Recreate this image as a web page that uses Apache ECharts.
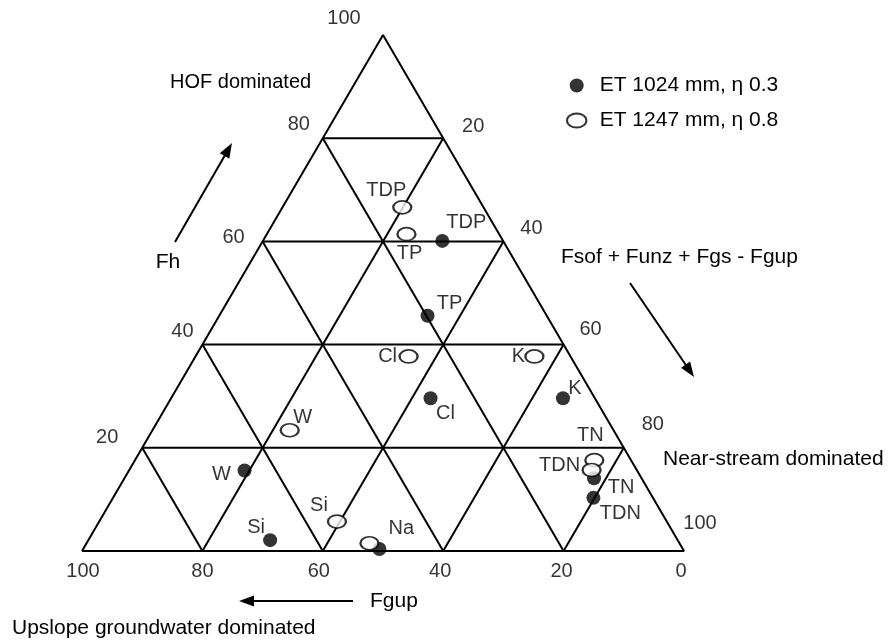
<!DOCTYPE html>
<html>
<head>
<meta charset="utf-8">
<script src="https://cdn.jsdelivr.net/npm/echarts@6/dist/echarts.min.js"></script>
<style>html,body{margin:0;padding:0;background:#fff;}#main{width:888px;height:640px;}</style>
</head>
<body>
<div id="main"></div>
<script>
// ---- data (ternary: Fgup %, Fh %, remainder = Fsof + Funz + Fgs - Fgup) ----
const elements = ['TDP', 'TP', 'Cl', 'K', 'W', 'Si', 'Na', 'TN', 'TDN'];
const seriesNames = ['ET 1024 mm, \u03b7 0.3', 'ET 1247 mm, \u03b7 0.8'];
const fgup1024 = [10.1, 19.8, 27.3, 5.3, 65.2, 67.7, 50.4, 7.9, 9.9];
const fh1024   = [60.1, 45.6, 29.6, 29.6, 15.6, 2.1, 0.4, 14.1, 10.3];
const fgup1247 = [13.5, 15.4, 26.9, 6.0, 53.8, 54.8, 51.5, 6.1, 7.5];
const fh1247   = [66.6, 61.4, 37.7, 37.7, 23.4, 5.7, 1.5, 17.6, 15.7];
const gridTicks = [20, 40, 60, 80];
const bottomTicks = [100, 80, 60, 40, 20, 0];   // Fgup
const leftTicks = [20, 40, 60, 80, 100];         // Fh
const rightTicks = [20, 40, 60, 80, 100];        // Fsof + Funz + Fgs - Fgup

// ---- label placement (style only) ----
const labelOff1024 = [[24,-18],[22,-12],[15,15],[12,-10],[-23,4],[-14,-13],[22,-20],[27,9],[27,16]];
const labelOff1247 = [[-16,-17],[3,19],[-21,0],[-16,0],[13,-13],[-18,-16],null,[-4,-25],[-32,-5]];
const bottomOff = [[1,20],[0,20],[-4,20],[-3,20],[-2,20],[-3,20]];
const leftOff = [[-35,-10],[-20,-13],[-29,-4],[-24,-14],[-39,-17]];
const rightOff = [[30,-12],[28,-13],[27,-15],[29,-23],[16,-28]];

const FONT = '"Liberation Sans", Arial, sans-serif';
const FS = 20;
const FS_TXT = 21;

// ternary -> cartesian (x: 0 at left vertex, 100 at right vertex; y: Fh)
function tern(fgup, fh) { return [100 - fgup - fh / 2, fh]; }

const lineStyle = { color: '#000', width: 2 };
function seg(pts) {
  return { type: 'line', data: pts, symbol: 'none', silent: true, clip: false,
           lineStyle: lineStyle, z: 1, animation: false };
}
const series = [];
series.push(seg([tern(100,0), tern(0,0), tern(0,100), tern(100,0)]));
gridTicks.forEach(function (t) {
  series.push(seg([tern(100 - t, t), tern(0, t)]));        // constant Fh
  series.push(seg([tern(t, 0), tern(t, 100 - t)]));        // constant Fgup
  series.push(seg([tern(100 - t, 0), tern(0, 100 - t)]));  // constant remainder
});

function ptLabel(off) {
  if (!off) return { show: false };
  return { show: true, position: 'inside', offset: off, color: '#000',
           fontSize: FS, fontFamily: FONT, align: 'center', verticalAlign: 'middle' };
}

series.push({
  name: seriesNames[0], type: 'scatter', clip: false, z: 5, animation: false,
  symbol: 'circle', symbolSize: 14,
  itemStyle: { color: '#000' },
  data: elements.map(function (e, i) {
    return { name: e, value: tern(fgup1024[i], fh1024[i]), label: Object.assign(ptLabel(labelOff1024[i]), { formatter: e }) };
  })
});
const ELL = 'path://M0,6.5 C0,2.91 4.03,0 9,0 C13.97,0 18,2.91 18,6.5 C18,10.09 13.97,13 9,13 C4.03,13 0,10.09 0,6.5 Z';
series.push({
  name: seriesNames[1], type: 'scatter', clip: false, z: 6, animation: false,
  symbol: ELL, symbolSize: [18, 13], symbolKeepAspect: false,
  itemStyle: { color: '#fff', borderColor: '#000', borderWidth: 2 },
  data: elements.map(function (e, i) {
    return { name: e, value: tern(fgup1247[i], fh1247[i]), label: Object.assign(ptLabel(labelOff1247[i]), { formatter: e }) };
  })
});

function tickSeries(ticks, posFn, offs) {
  return {
    type: 'scatter', silent: true, clip: false, z: 3, animation: false, symbolSize: 1,
    itemStyle: { color: 'rgba(0,0,0,0)' },
    data: ticks.map(function (v, i) {
      return { value: posFn(v), label: { show: true, position: 'inside', offset: offs[i], formatter: String(v),
               color: '#000', fontSize: FS, fontFamily: FONT, align: 'center', verticalAlign: 'middle' } };
    })
  };
}
series.push(tickSeries(bottomTicks, function (v) { return tern(v, 0); }, bottomOff));
series.push(tickSeries(leftTicks, function (v) { return tern(100 - v, v); }, leftOff));
series.push(tickSeries(rightTicks, function (v) { return tern(0, 100 - v); }, rightOff));

function arrow(x1, y1, x2, y2) {
  const dx = x2 - x1, dy = y2 - y1, L = Math.sqrt(dx * dx + dy * dy);
  const ux = dx / L, uy = dy / L, hl = 15, hw = 5.5;
  const bx = x2 - ux * hl, by = y2 - uy * hl;
  return { type: 'group', children: [
    { type: 'line', shape: { x1: x1, y1: y1, x2: bx + ux * 2, y2: by + uy * 2 }, style: { stroke: '#000', lineWidth: 2 } },
    { type: 'polygon', shape: { points: [[x2, y2], [bx - uy * hw, by + ux * hw], [bx + uy * hw, by - ux * hw]] }, style: { fill: '#000' } }
  ]};
}
function txt(x, y, s, align, fs) {
  return { type: 'text', x: x, y: y, style: { text: s, fill: '#000', font: (fs || FS_TXT) + 'px ' + FONT,
           textAlign: align || 'left', textVerticalAlign: 'middle' } };
}

const chart = echarts.init(document.getElementById('main'), null, { renderer: 'canvas' });
chart.setOption({
  backgroundColor: '#fff',
  animation: false,
  grid: { left: 82, right: 204, top: 35, bottom: 89 },
  xAxis: { type: 'value', min: 0, max: 100, show: false },
  yAxis: { type: 'value', min: 0, max: 100, show: false },
  legend: {
    orient: 'vertical', left: 566, top: 75, padding: 0, itemGap: 14,
    itemWidth: 36, itemHeight: 14, symbolKeepAspect: true,
    data: seriesNames,
    textStyle: { color: '#000', fontSize: FS_TXT, fontFamily: FONT, lineHeight: 20 },
    selectedMode: false
  },
  graphic: [
    txt(170, 82, 'HOF dominated', 'left', FS),
    txt(168, 262, 'Fh', 'center'),
    arrow(175, 242, 232, 143),
    txt(561, 257, 'Fsof + Funz + Fgs - Fgup'),
    arrow(630, 283, 694, 377),
    txt(663, 459, 'Near-stream dominated'),
    txt(370, 601, 'Fgup'),
    arrow(353, 601, 239, 601),
    txt(12, 628, 'Upslope groundwater dominated')
  ],
  series: series
});
</script>
</body>
</html>
